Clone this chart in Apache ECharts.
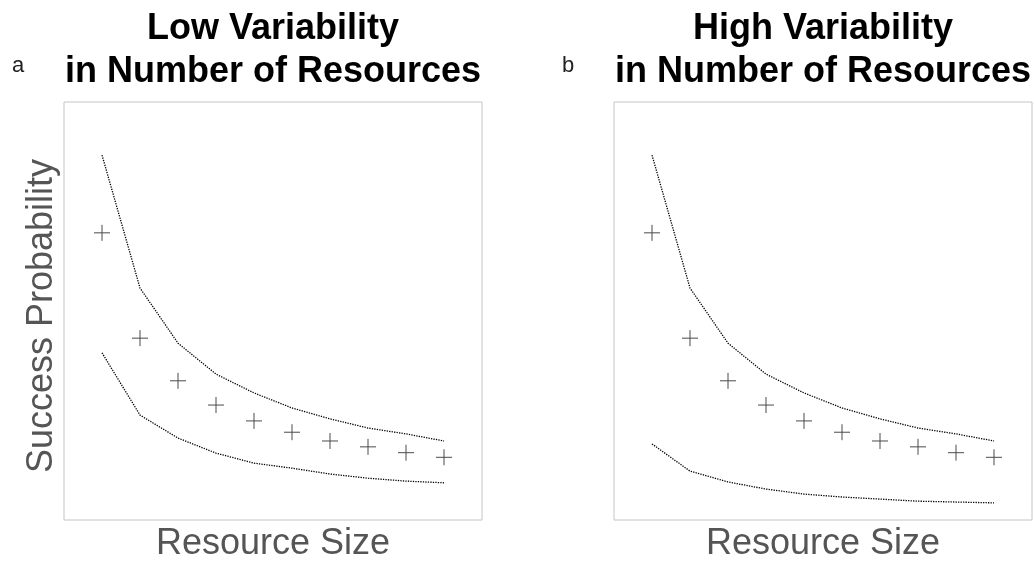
<!DOCTYPE html>
<html>
<head>
<meta charset="utf-8">
<script src="https://cdn.jsdelivr.net/npm/echarts@6/dist/echarts.min.js"></script>
<style>
html,body{margin:0;padding:0;background:#fff;}
#c{width:1034px;height:561px;}
</style>
</head>
<body>
<div id="c"></div>
<script>
// Resource size positions (1..10)
var resourceSize = [1, 2, 3, 4, 5, 6, 7, 8, 9, 10];

// Panel a: low variability
var meanLow  = [0.687, 0.435, 0.333, 0.275, 0.237, 0.210, 0.189, 0.175, 0.161, 0.150];
var upperLow = [0.873, 0.555, 0.423, 0.349, 0.304, 0.268, 0.242, 0.220, 0.206, 0.189];
var lowerLow = [0.400, 0.251, 0.196, 0.160, 0.136, 0.124, 0.110, 0.100, 0.093, 0.089];

// Panel b: high variability
var meanHigh  = [0.687, 0.435, 0.333, 0.275, 0.237, 0.210, 0.189, 0.175, 0.161, 0.150];
var upperHigh = [0.873, 0.555, 0.423, 0.349, 0.304, 0.268, 0.242, 0.220, 0.206, 0.189];
var lowerHigh = [0.182, 0.117, 0.091, 0.074, 0.062, 0.055, 0.050, 0.045, 0.043, 0.041];

var titleA = 'Low Variability\nin Number of Resources';
var titleB = 'High Variability\nin Number of Resources';
var xName = 'Resource Size';
var yName = 'Success Probability';

function pairs(vals) {
  return resourceSize.map(function (x, i) { return [x, vals[i]]; });
}

var FONT = 'Liberation Sans, Arial, Helvetica, sans-serif';
var plusPath = 'path://M0,8L16,8M8,0L8,16';

function lineSeries(vals, idx) {
  return {
    type: 'line', xAxisIndex: idx, yAxisIndex: idx,
    data: pairs(vals), symbol: 'none', silent: true,
    lineStyle: { color: '#000', width: 1.3, type: [1.3, 1.2] }
  };
}
function pointSeries(vals, idx) {
  return {
    type: 'scatter', xAxisIndex: idx, yAxisIndex: idx,
    data: pairs(vals), symbol: plusPath, symbolSize: 16, silent: true,
    itemStyle: { color: 'none', borderColor: '#4a4a4a', borderWidth: 1, opacity: 1 }
  };
}

var chart = echarts.init(document.getElementById('c'), null, { renderer: 'canvas' });
var option = {
  animation: false,
  backgroundColor: '#fff',
  grid: [
    { left: 64, top: 102, width: 418, height: 418, show: true, borderColor: '#c4c4c4', borderWidth: 1, backgroundColor: 'transparent' },
    { left: 614, top: 102, width: 418, height: 418, show: true, borderColor: '#c4c4c4', borderWidth: 1, backgroundColor: 'transparent' }
  ],
  xAxis: [
    { type: 'value', gridIndex: 0, min: 0, max: 11, show: false },
    { type: 'value', gridIndex: 1, min: 0, max: 11, show: false }
  ],
  yAxis: [
    { type: 'value', gridIndex: 0, min: 0, max: 1, show: false },
    { type: 'value', gridIndex: 1, min: 0, max: 1, show: false }
  ],
  series: [
    lineSeries(upperLow, 0), lineSeries(lowerLow, 0), pointSeries(meanLow, 0),
    lineSeries(upperHigh, 1), lineSeries(lowerHigh, 1), pointSeries(meanHigh, 1)
  ],
  graphic: [
    { type: 'text', x: 273, y: 8, style: { text: titleA, align: 'center', verticalAlign: 'top', fontSize: 36, lineHeight: 43, fontWeight: 'bold', fontFamily: FONT, fill: '#000' } },
    { type: 'text', x: 823, y: 8, style: { text: titleB, align: 'center', verticalAlign: 'top', fontSize: 36, lineHeight: 43, fontWeight: 'bold', fontFamily: FONT, fill: '#000' } },
    { type: 'text', x: 12, y: 66, style: { text: 'a', align: 'left', verticalAlign: 'middle', fontSize: 22, fontFamily: FONT, fill: '#222' } },
    { type: 'text', x: 562, y: 66, style: { text: 'b', align: 'left', verticalAlign: 'middle', fontSize: 22, fontFamily: FONT, fill: '#222' } },
    { type: 'text', x: 273, y: 544, style: { text: xName, align: 'center', verticalAlign: 'middle', fontSize: 36, fontFamily: FONT, fill: '#555' } },
    { type: 'text', x: 823, y: 544, style: { text: xName, align: 'center', verticalAlign: 'middle', fontSize: 36, fontFamily: FONT, fill: '#555' } },
    { type: 'text', x: 42, y: 316, rotation: Math.PI / 2, style: { text: yName, align: 'center', verticalAlign: 'middle', fontSize: 36, fontFamily: FONT, fill: '#555' } }
  ]
};
chart.setOption(option);
</script>
</body>
</html>
